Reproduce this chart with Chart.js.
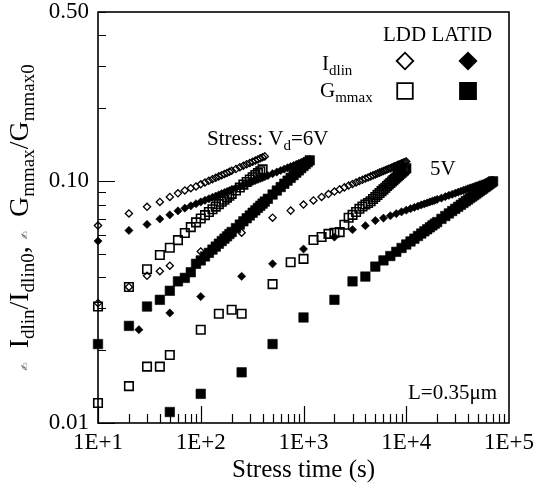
<!DOCTYPE html>
<html>
<head>
<meta charset="utf-8">
<script src="https://cdn.jsdelivr.net/npm/chart.js@4.4.1/dist/chart.umd.min.js"></script>
<style>
  body { margin: 0; background: #fff; }
</style>
</head>
<body>
<canvas id="chart" width="534" height="493"></canvas>
<script>
const SERIF = '"Liberation Serif", "Times New Roman", serif'

// axis ticks
const X_TICKS = [10, 100, 1000, 10000, 100000]
const X_TICK_LABELS = ['1E+1', '1E+2', '1E+3', '1E+4', '1E+5']
const Y_TICKS = [0.01, 0.1, 0.5]
const Y_TICK_LABELS = ['0.01', '0.10', '0.50']

// stress at Vd = 6V, stress time (s)
const t6 = [10, 20, 30, 40, 50, 60, 70, 80, 90, 100, 110, 120, 130, 140, 150, 160, 170, 180, 190, 200,
  220, 240, 260, 280, 300, 320, 340, 360, 380, 400, 420, 450, 500, 550, 600, 650, 700, 750, 800, 850,
  900, 950, 1000, 1050, 1100, 1150]
const idlinLdd6 = [0.0655, 0.0735, 0.0783, 0.0820, 0.0860, 0.0890, 0.0915, 0.0935, 0.0950, 0.0970,
  0.0987, 0.1003, 0.1018, 0.1032, 0.1046, 0.1058, 0.1070, 0.1081, 0.1092, 0.1103,
  0.1122, 0.1141, 0.1158, 0.1174, 0.1189, 0.1203, 0.1216, 0.1229, 0.1242, 0.1254, 0.1265]
const gmLdd6 = [0.0303, 0.0365, 0.0432, 0.0495, 0.0530, 0.0570, 0.0610, 0.0645, 0.0675, 0.0700,
  0.0723, 0.0745, 0.0765, 0.0784, 0.0803, 0.0821, 0.0837, 0.0854, 0.0870, 0.0885,
  0.0914, 0.0941, 0.0967, 0.0991, 0.1015, 0.1037, 0.1059, 0.1079, 0.1099, 0.1118]
const idlinLatid6 = [0.0565, 0.0625, 0.0662, 0.0697, 0.0725, 0.0753, 0.0773, 0.0790, 0.0806, 0.0820,
  0.0833, 0.0845, 0.0857, 0.0867, 0.0877, 0.0887, 0.0896, 0.0905, 0.0913, 0.0921,
  0.0935, 0.0949, 0.0962, 0.0974, 0.0985, 0.0996, 0.1006, 0.1016, 0.1025, 0.1034, 0.1042,
  0.1054, 0.1073, 0.1090, 0.1106, 0.1121, 0.1135, 0.1148, 0.1160, 0.1172, 0.1184, 0.1194,
  0.1204, 0.1214, 0.1224, 0.1233]
const gmLatid6 = [0.0212, 0.0252, 0.0303, 0.0323, 0.0352, 0.0385, 0.0398, 0.0420, 0.0455, 0.0470,
  0.0488, 0.0505, 0.0521, 0.0536, 0.0551, 0.0565, 0.0578, 0.0591, 0.0604, 0.0616,
  0.0639, 0.0661, 0.0682, 0.0702, 0.0721, 0.0740, 0.0757, 0.0775, 0.0791, 0.0807, 0.0823,
  0.0845, 0.0880, 0.0914, 0.0945, 0.0975, 0.1004, 0.1031, 0.1058, 0.1083, 0.1107, 0.1131,
  0.1154, 0.1176, 0.1197, 0.1218]

// stress at Vd = 5V
const t5Ldd = [10, 20, 30, 40, 50, 100, 150, 200, 250, 500, 750, 1000, 1250, 1500, 1750, 2000,
  2250, 2500, 2750, 3000, 3250, 3500, 3750, 4000, 4250, 4500, 4750, 5000, 5250, 5500, 5750, 6000,
  6250, 6500, 6750, 7000, 7250, 7500, 7750, 8000, 8250, 8500, 8750, 9000, 9250, 9500, 9750, 10000]
const idlinLdd5 = [0.0313, 0.0365, 0.0406, 0.0424, 0.0447, 0.0512, null, null, 0.0612, 0.0706, 0.0755,
  0.0800, 0.0832, 0.0860, 0.0884, 0.0905, 0.0924, 0.0942, 0.0958, 0.0973, 0.0987, 0.1000, 0.1012,
  0.1024, 0.1035, 0.1046, 0.1056, 0.1065, 0.1075, 0.1084, 0.1092, 0.1101, 0.1109, 0.1116, 0.1124,
  0.1131, 0.1138, 0.1145, 0.1152, 0.1158, 0.1165, 0.1171, 0.1177, 0.1183, 0.1189, 0.1194, 0.1200, 0.1205]
const gmLdd5 = [0.0121, 0.0142, 0.0171, 0.0171, 0.0191, 0.0243, 0.0283, 0.0294, 0.0283, 0.0375, 0.0462,
  0.0477, 0.0571, 0.0587, 0.0605, 0.0612, 0.0615, 0.0660, 0.0705, 0.0725, 0.0745, 0.0768, 0.0785,
  0.0800, 0.0812, 0.0825, 0.0843, 0.0860, 0.0877, 0.0893, 0.0909, 0.0924, 0.0939, 0.0954, 0.0968,
  0.0982, 0.0996, 0.1009, 0.1022, 0.1035, 0.1048, 0.1060, 0.1072, 0.1084, 0.1096, 0.1107, 0.1119, 0.1130]

const t5Latid = [25, 50, 100, 250, 500, 1000, 2000, 3000, 4000, 5000, 6000, 7000, 8000, 9000, 10000,
  11000, 12000, 13000, 14000, 15000, 16000, 17000, 18000, 19000, 20000, 22000, 24000, 26000, 28000,
  30000, 32000, 34000, 36000, 38000, 40000, 42000, 44000, 46000, 48000, 50000, 52000, 54000, 56000,
  58000, 60000, 62000, 64000, 66000, 68000, 70000]
const idlinLatid5 = [0.0243, 0.0285, 0.0333, 0.0404, 0.0455, 0.0524, 0.0587, 0.0630, 0.0654, 0.0687,
  0.0703, 0.0719, 0.0733, 0.0746, 0.0758, 0.0769, 0.0779, 0.0788, 0.0797, 0.0805, 0.0812, 0.0820,
  0.0827, 0.0833, 0.0840, 0.0851, 0.0862, 0.0873, 0.0882, 0.0891, 0.0900, 0.0908, 0.0916, 0.0923,
  0.0930, 0.0937, 0.0943, 0.0949, 0.0955, 0.0961, 0.0967, 0.0972, 0.0977, 0.0982, 0.0987, 0.0992,
  0.0997, 0.1001, 0.1006, 0.1010]
const gmLatid5 = [null, 0.0111, 0.0132, 0.0162, 0.0212, 0.0273, 0.0323, 0.0385, 0.0403, 0.0443,
  0.0470, 0.0490, 0.0510, 0.0529, 0.0547, 0.0563, 0.0578, 0.0593, 0.0607, 0.0620, 0.0632, 0.0644,
  0.0656, 0.0667, 0.0677, 0.0698, 0.0717, 0.0735, 0.0752, 0.0768, 0.0783, 0.0798, 0.0812, 0.0826,
  0.0839, 0.0852, 0.0864, 0.0876, 0.0888, 0.0899, 0.0910, 0.0921, 0.0931, 0.0942, 0.0951, 0.0961,
  0.0971, 0.0980, 0.0989, 0.0998]

const points = (ts, vs) => vs
  .map((v, i) => ({ x: ts[i], y: v }))
  .filter(p => p.y !== null)

// marker looks
const openDiamond = { pointStyle: 'rectRot', pointRadius: 3.6, pointBorderWidth: 1.3, pointBackgroundColor: 'rgba(0,0,0,0)', pointBorderColor: '#000' }
const fullDiamond = { pointStyle: 'rectRot', pointRadius: 4.1, pointBorderWidth: 0.6, pointBackgroundColor: '#000', pointBorderColor: '#000' }
const openSquare = { pointStyle: 'rect', pointRadius: 6.0, pointBorderWidth: 1.6, pointBackgroundColor: 'rgba(0,0,0,0)', pointBorderColor: '#000' }
const fullSquare = { pointStyle: 'rect', pointRadius: 6.7, pointBorderWidth: 0.6, pointBackgroundColor: '#000', pointBorderColor: '#000' }

const datasets = [
  { label: 'LDD Idlin 6V', data: points(t6, idlinLdd6), ...openDiamond },
  { label: 'LDD Idlin 5V', data: points(t5Ldd, idlinLdd5), ...openDiamond },
  { label: 'LDD Gmmax 6V', data: points(t6, gmLdd6), ...openSquare },
  { label: 'LDD Gmmax 5V', data: points(t5Ldd, gmLdd5), ...openSquare },
  { label: 'LATID Idlin 6V', data: points(t6, idlinLatid6), ...fullDiamond },
  { label: 'LATID Idlin 5V', data: points(t5Latid, idlinLatid5), ...fullDiamond },
  { label: 'LATID Gmmax 6V', data: points(t6, gmLatid6), ...fullSquare },
  { label: 'LATID Gmmax 5V', data: points(t5Latid, gmLatid5), ...fullSquare },
].map(d => ({ ...d, showLine: false, clip: false }))

// draws text pieces left to right: [text, 'n' | 's' | 'g']
function pieceFont(kind, size, sub) {
  if (kind === 's') return sub + 'px ' + SERIF
  if (kind === 'g') return '10px "DejaVu Sans"'
  return size + 'px ' + SERIF
}
function richWidth(ctx, parts, size, sub) {
  let w = 0
  for (const [t, k] of parts) {
    ctx.font = pieceFont(k, size, sub)
    w += ctx.measureText(t).width
  }
  return w
}
function richText(ctx, parts, x, y, size, sub, drop) {
  ctx.textBaseline = 'alphabetic'
  ctx.textAlign = 'left'
  for (const [t, k] of parts) {
    ctx.font = pieceFont(k, size, sub)
    ctx.fillStyle = k === 'g' ? '#555' : '#000'
    ctx.fillText(t, x, k === 's' ? y + drop : y)
    x += ctx.measureText(t).width
  }
}

const framePlugin = {
  id: 'frame',
  afterDraw(chart) {
    const { ctx, chartArea: a, scales } = chart
    ctx.save()
    ctx.strokeStyle = '#000'
    ctx.lineWidth = 1.2
    ctx.beginPath()
    for (let e = 1; e < 5; e++) {
      for (let k = 1; k <= 9; k++) {
        const px = Math.round(scales.x.getPixelForValue(k * Math.pow(10, e))) + 0.5
        const len = k === 1 ? 17 : 9
        ctx.moveTo(px, a.bottom)
        ctx.lineTo(px, a.bottom - len)
      }
    }
    for (let e = -2; e < 0; e++) {
      for (let k = 1; k <= 9; k++) {
        const v = k * Math.pow(10, e)
        if (v > 0.5) break
        const py = Math.round(scales.y.getPixelForValue(v)) + 0.5
        const len = k === 1 ? 17 : 8
        ctx.moveTo(a.left, py)
        ctx.lineTo(a.left + len, py)
      }
    }
    ctx.stroke()
    ctx.lineWidth = 1.6
    ctx.strokeRect(a.left, a.top, a.right - a.left, a.bottom - a.top)
    ctx.restore()
  }
}

const textPlugin = {
  id: 'texts',
  afterDraw(chart) {
    const { ctx, chartArea: a } = chart
    ctx.save()

    // y axis title, rotated
    const yTitle = [['\u270D', 'g'], ['  ', 'n'], ['I', 'n'], ['dlin', 's'], ['/', 'n'], ['I', 'n'], ['dlin0', 's'],
      [', ', 'n'], ['\u270D', 'g'], ['  ', 'n'], ['G', 'n'], ['mmax', 's'], ['/', 'n'], ['G', 'n'], ['mmax0', 's']]
    const w = richWidth(ctx, yTitle, 28, 19)
    ctx.save()
    ctx.translate(28, (a.top + a.bottom) / 2)
    ctx.rotate(-Math.PI / 2)
    richText(ctx, yTitle, -w / 2, 0, 28, 19, 6)
    ctx.restore()

    // annotations
    richText(ctx, [['Stress: V', 'n'], ['d', 's'], ['=6V', 'n']], 207, 145, 21, 15, 5)
    richText(ctx, [['5V', 'n']], 430, 175, 21, 15, 5)
    ctx.font = '21px ' + SERIF
    ctx.textAlign = 'right'
    ctx.fillText('L=0.35\u03BCm', 497, 399)

    // legend
    richText(ctx, [['LDD LATID', 'n']], 383, 41, 21, 15, 5)
    richText(ctx, [['I', 'n'], ['dlin', 's']], 322, 70, 21, 15, 5)
    richText(ctx, [['G', 'n'], ['mmax', 's']], 320, 97, 21, 15, 5)
    const marks = [
      [405, 61, 'rectRot', 8.3, false], [468, 61, 'rectRot', 8.3, true],
      [405, 91, 'rect', 11.0, false], [468, 91, 'rect', 11.3, true]
    ]
    ctx.strokeStyle = '#000'
    ctx.lineWidth = 1.8
    for (const [x, y, style, r, filled] of marks) {
      ctx.fillStyle = filled ? '#000' : 'rgba(0,0,0,0)'
      Chart.helpers.drawPoint(ctx, { pointStyle: style, radius: r, borderWidth: 1.8, rotation: 0 }, x, y)
    }
    ctx.restore()
  }
}

const tickFont = { family: SERIF, size: 23, lineHeight: 1 }

new Chart(document.getElementById('chart').getContext('2d'), {
  type: 'scatter',
  data: { datasets },
  options: {
    responsive: false,
    animation: false,
    events: [],
    layout: { padding: { top: 12, right: 25, left: 0, bottom: 0 } },
    plugins: { legend: { display: false }, tooltip: { enabled: false } },
    scales: {
      x: {
        type: 'logarithmic',
        min: 10,
        max: 100000,
        afterBuildTicks: s => { s.ticks = X_TICKS.map(v => ({ value: v })) },
        afterFit: s => { s.height = 70; s.paddingLeft = 0; s.paddingRight = 0 },
        grid: { display: false, drawTicks: false },
        border: { display: false },
        ticks: {
          autoSkip: false, maxRotation: 0, minRotation: 0, padding: 8, color: '#000', font: tickFont,
          callback: v => X_TICK_LABELS[X_TICKS.indexOf(v)]
        },
        title: { display: true, text: 'Stress time (s)', color: '#000', font: { family: SERIF, size: 25 }, padding: { top: 0, bottom: 8 } }
      },
      y: {
        type: 'logarithmic',
        min: 0.01,
        max: 0.5,
        afterBuildTicks: s => { s.ticks = Y_TICKS.map(v => ({ value: v })) },
        afterFit: s => { s.width = 98; s.paddingTop = 0; s.paddingBottom = 0 },
        grid: { display: false, drawTicks: false },
        border: { display: false },
        ticks: {
          autoSkip: false, padding: 9, color: '#000', font: tickFont,
          callback: v => Y_TICK_LABELS[Y_TICKS.indexOf(v)]
        }
      }
    }
  },
  plugins: [framePlugin, textPlugin]
})
</script>
</body>
</html>
